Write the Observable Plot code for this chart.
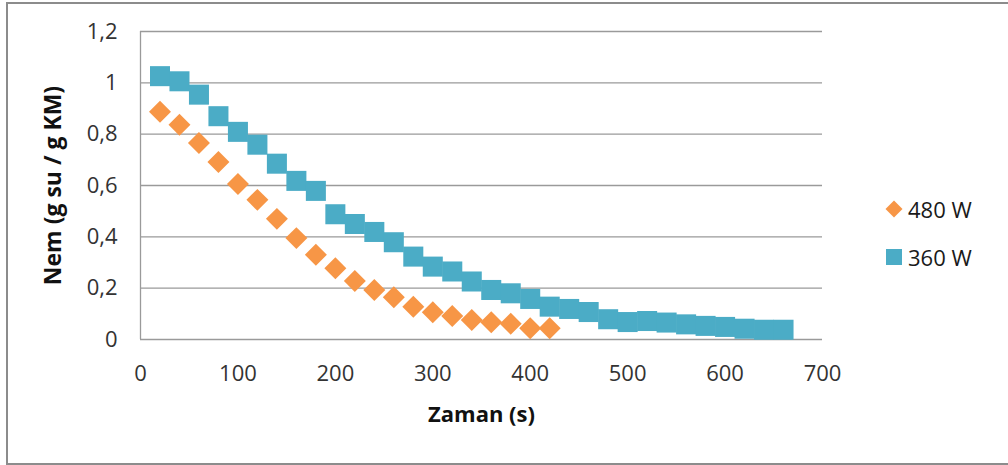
<!DOCTYPE html>
<html>
<head>
<meta charset="utf-8">
<script src="https://cdn.jsdelivr.net/npm/d3@7"></script>
<script src="https://cdn.jsdelivr.net/npm/@observablehq/plot@0.6"></script>
<style>
  html, body { margin: 0; padding: 0; background: #fff; overflow: hidden; }
  #wrap { position: relative; width: 1008px; height: 465px; overflow: hidden; font-family: "Open Sans", Lato, sans-serif; }
  #border { position: absolute; left: 6px; top: 2px; width: 1010px; height: 459px; border: 2px solid #8c8c8c; border-right: none; box-sizing: content-box; pointer-events: none; }
  #legend { position: absolute; left: 884px; top: 195px; font-size: 22px; color: #1a1a1a; }
  #legend .row { display: flex; align-items: center; height: 28px; margin-bottom: 20px; }
  #legend svg { margin-right: 4px; }
  #chart svg { display: block; }
</style>
</head>
<body>
<div id="wrap">
  <div id="chart"></div>
  <div id="legend"></div>
  <div id="border"></div>
</div>
<script>
// ---- data ----
const time480 = [20,40,60,80,100,120,140,160,180,200,220,240,260,280,300,320,340,360,380,400,420];
const nem480  = [0.887,0.837,0.766,0.692,0.606,0.544,0.470,0.395,0.330,0.278,0.228,0.193,0.165,0.128,0.106,0.092,0.076,0.067,0.061,0.044,0.044];
const time360 = [20,40,60,80,100,120,140,160,180,200,220,240,260,280,300,320,340,360,380,400,420,440,460,480,500,520,540,560,580,600,620,640,660];
const nem360  = [1.026,1.006,0.954,0.870,0.809,0.759,0.685,0.618,0.579,0.488,0.450,0.419,0.379,0.323,0.284,0.265,0.226,0.193,0.180,0.158,0.128,0.119,0.107,0.079,0.068,0.072,0.066,0.059,0.053,0.049,0.042,0.038,0.038];
const seriesNames = ["480 W", "360 W"];
const seriesColors = ["#F79646", "#4BACC6"];
const xTicks = [0,100,200,300,400,500,600,700];
const yTicks = [0,0.2,0.4,0.6,0.8,1,1.2];
const xTitle = "Zaman (s)";
const yTitle = "Nem (g su / g KM)";

const d480 = time480.map((t, i) => ({t, v: nem480[i]}));
const d360 = time360.map((t, i) => ({t, v: nem360[i]}));
const fmt = d => String(d).replace(".", ",");

const chart = Plot.plot({
  width: 1008,
  height: 465,
  marginLeft: 140,
  marginRight: 186,
  marginTop: 31,
  marginBottom: 126,
  style: {fontFamily: "'Open Sans', Lato, sans-serif", fontSize: "22px", color: "#333", background: "transparent"},
  x: {domain: [0, 700], ticks: xTicks},
  y: {domain: [0, 1.2], ticks: yTicks},
  marks: [
    Plot.ruleY(yTicks, {stroke: "#9a9a9a", strokeWidth: 1.3}),
    Plot.ruleX([0], {stroke: "#9a9a9a", strokeWidth: 1.3}),
    Plot.axisX({ticks: xTicks, tickSize: 0, tickPadding: 26, label: null, tickFormat: fmt, fill: "#333", fontSize: 22}),
    Plot.axisY({ticks: yTicks, tickSize: 0, tickPadding: 23, label: null, tickFormat: fmt, fill: "#333", fontSize: 22}),
    Plot.dot(d480, {x: "t", y: "v", symbol: "diamond2", r: 9.9, fill: seriesColors[0], stroke: "none"}),
    Plot.dot(d360, {x: "t", y: "v", symbol: "square", r: 11.3, fill: seriesColors[1], stroke: "none"}),
    Plot.text([xTitle], {frameAnchor: "bottom", textAnchor: "middle", dy: 75, fontWeight: "bold", fontSize: 22, fill: "#111", lineAnchor: "middle"}),
    Plot.text([yTitle], {frameAnchor: "left", textAnchor: "middle", dx: -87, rotate: -90, fontWeight: "bold", fontSize: 23, fill: "#111", lineAnchor: "middle"})
  ]
});
document.getElementById("chart").appendChild(chart);

// legend
const legend = document.getElementById("legend");
seriesNames.forEach((name, i) => {
  const row = document.createElement("div");
  row.className = "row";
  const shape = i === 0
    ? `<svg width="20" height="20"><path d="M10,1.5L18.5,10L10,18.5L1.5,10Z" fill="${seriesColors[i]}"/></svg>`
    : `<svg width="20" height="20"><rect x="2" y="2" width="16" height="16" fill="${seriesColors[i]}"/></svg>`;
  row.innerHTML = shape + `<span>${name}</span>`;
  legend.appendChild(row);
});
</script>
</body>
</html>
